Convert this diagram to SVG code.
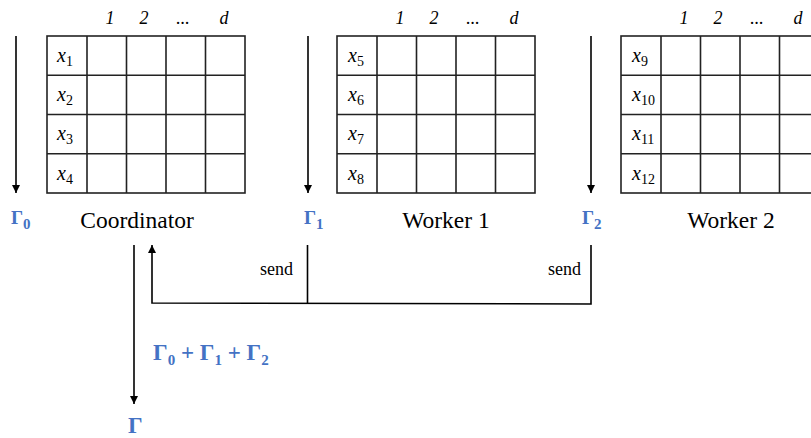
<svg xmlns="http://www.w3.org/2000/svg" width="811" height="438" viewBox="0 0 811 438">
<style>
.grid{fill:#fff;stroke:#222;stroke-width:1.6}
.gl{stroke:#222;stroke-width:1.6;fill:none}
.ln{stroke:#000;stroke-width:1.6;fill:none}
.hdr{font-style:italic;font-size:18px;fill:#000;text-anchor:middle}
.xv{font-style:italic;font-size:20px;fill:#000}
.sub{font-style:normal;font-size:14px}
.name{font-size:23.5px;fill:#000;text-anchor:middle}
.g{font-weight:bold;fill:#4472C4}
.gs{font-size:15px}
.send{font-size:18px;fill:#000;text-anchor:end}
</style>
<defs>
<marker id="ah" viewBox="0 0 10 10" refX="10" refY="5" markerWidth="8" markerHeight="8" markerUnits="userSpaceOnUse" orient="auto">
<path d="M0,0 L10,5 L0,10 z" fill="#000"/>
</marker>
</defs>

<g id="coordinator" font-family="Liberation Serif, Times New Roman, serif">
<rect class="grid" x="47" y="36" width="198" height="157"/>
<path class="gl" d="M87,36V193M126.5,36V193M166,36V193M205.5,36V193M47,75.25H245M47,114.5H245M47,153.75H245"/>
<text class="hdr" x="110" y="24">1</text>
<text class="hdr" x="144" y="24">2</text>
<text class="hdr" x="183" y="24">...</text>
<text class="hdr" x="224" y="24">d</text>
<text class="xv" x="57" y="62">x<tspan class="sub" dy="4">1</tspan></text>
<text class="xv" x="57" y="101">x<tspan class="sub" dy="4">2</tspan></text>
<text class="xv" x="57" y="140">x<tspan class="sub" dy="4">3</tspan></text>
<text class="xv" x="57" y="180">x<tspan class="sub" dy="4">4</tspan></text>
<text class="name" x="137" y="228">Coordinator</text>
</g>

<g id="worker1" font-family="Liberation Serif, Times New Roman, serif">
<rect class="grid" x="337" y="36" width="198" height="157"/>
<path class="gl" d="M377,36V193M416.5,36V193M456,36V193M495.5,36V193M337,75.25H535M337,114.5H535M337,153.75H535"/>
<text class="hdr" x="400" y="24">1</text>
<text class="hdr" x="434" y="24">2</text>
<text class="hdr" x="473" y="24">...</text>
<text class="hdr" x="514" y="24">d</text>
<text class="xv" x="348" y="62">x<tspan class="sub" dy="4">5</tspan></text>
<text class="xv" x="348" y="101">x<tspan class="sub" dy="4">6</tspan></text>
<text class="xv" x="348" y="140">x<tspan class="sub" dy="4">7</tspan></text>
<text class="xv" x="348" y="180">x<tspan class="sub" dy="4">8</tspan></text>
<text class="name" x="446" y="228">Worker 1</text>
</g>

<g id="worker2" font-family="Liberation Serif, Times New Roman, serif">
<rect class="grid" x="621" y="36" width="198" height="157"/>
<path class="gl" d="M661,36V193M700.5,36V193M740,36V193M779.5,36V193M621,75.25H819M621,114.5H819M621,153.75H819"/>
<text class="hdr" x="684" y="24">1</text>
<text class="hdr" x="718" y="24">2</text>
<text class="hdr" x="757" y="24">...</text>
<text class="hdr" x="798" y="24">d</text>
<text class="xv" x="632" y="62">x<tspan class="sub" dy="4">9</tspan></text>
<text class="xv" x="632" y="101">x<tspan class="sub" dy="4">10</tspan></text>
<text class="xv" x="632" y="140">x<tspan class="sub" dy="4">11</tspan></text>
<text class="xv" x="632" y="180">x<tspan class="sub" dy="4">12</tspan></text>
<text class="name" x="731" y="228">Worker 2</text>
</g>

<g id="gamma-labels" font-family="Liberation Serif, Times New Roman, serif">
<text class="g" x="11" y="224" font-size="19">Γ<tspan class="gs" dy="5">0</tspan></text>
<text class="g" x="304" y="224" font-size="19">Γ<tspan class="gs" dy="5">1</tspan></text>
<text class="g" x="582" y="224" font-size="19">Γ<tspan class="gs" dy="5">2</tspan></text>
<text class="g" x="153" y="360" font-size="23">Γ<tspan class="gs" font-size="16" dy="5">0</tspan><tspan dy="-5"> + Γ</tspan><tspan class="gs" font-size="16" dy="5">1</tspan><tspan dy="-5"> + Γ</tspan><tspan class="gs" font-size="16" dy="5">2</tspan></text>
<text class="g" x="128" y="433" font-size="23">Γ</text>
</g>

<g id="connectors" font-family="Liberation Serif, Times New Roman, serif">
<line class="ln" x1="16" y1="36" x2="16" y2="193" marker-end="url(#ah)"/>
<line class="ln" x1="308" y1="36" x2="308" y2="193" marker-end="url(#ah)"/>
<line class="ln" x1="591" y1="36" x2="591" y2="193" marker-end="url(#ah)"/>
<line class="ln" x1="134" y1="245" x2="134" y2="404" marker-end="url(#ah)"/>
<polyline class="ln" points="591,245 591,304 152,303 152,245" marker-end="url(#ah)"/>
<line class="ln" x1="307.5" y1="245" x2="307.5" y2="303.5"/>
<text class="send" x="293" y="275">send</text>
<text class="send" x="581" y="275">send</text>
</g>
</svg>
